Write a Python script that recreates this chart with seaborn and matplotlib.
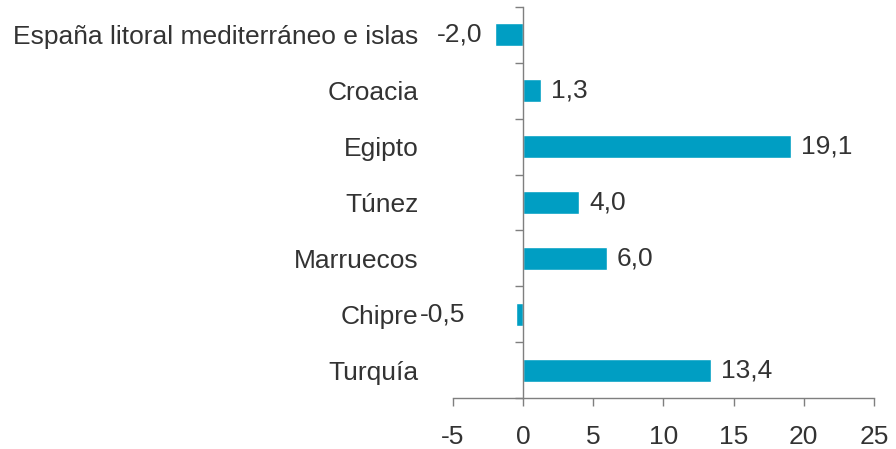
import matplotlib
matplotlib.use("Agg")
import matplotlib.pyplot as plt
import seaborn as sns
import pandas as pd

# Chart values
destinos = ["España litoral mediterráneo e islas", "Croacia", "Egipto", "Túnez",
            "Marruecos", "Chipre", "Turquía"]
variacion = [-2.0, 1.3, 19.1, 4.0, 6.0, -0.5, 13.4]
x_ticks = [-5, 0, 5, 10, 15, 20, 25]

df = pd.DataFrame({"destino": destinos, "variacion": variacion})

sns.set_theme(style="white")
plt.rcParams["font.family"] = ["Liberation Sans", "DejaVu Sans"]

BAR_COLOR = "#009EC3"
TEXT_COLOR = "#333333"
AXIS_COLOR = "#7f7f7f"
FS = 19

fig = plt.figure(figsize=(8.96, 4.49), dpi=100)
ax = fig.add_axes([0.5056, 0.1136, 0.4698, 0.8708])

sns.barplot(data=df, x="variacion", y="destino", order=destinos, orient="h",
            color=BAR_COLOR, width=0.41, saturation=1, ax=ax)

ax.set_xlim(-5, 25)
ax.set_ylim(len(destinos) - 0.5, -0.5)
ax.set_xlabel("")
ax.set_ylabel("")

# x axis at the bottom
ax.set_xticks(x_ticks)
ax.set_xticklabels([str(t) for t in x_ticks])
ax.tick_params(axis="x", direction="out", length=5.5, width=1, color=AXIS_COLOR,
               pad=14, labelsize=FS, labelcolor=TEXT_COLOR, bottom=True)
for s in ["top", "right", "left"]:
    ax.spines[s].set_visible(False)
ax.spines["bottom"].set_color(AXIS_COLOR)
ax.spines["bottom"].set_linewidth(1)

# category labels sit left of the plot area
ax.tick_params(axis="y", length=0, pad=25, labelsize=FS, labelcolor=TEXT_COLOR)

# vertical axis line at zero with boundary ticks
ax2 = ax.twinx()
ax2.set_ylim(ax.get_ylim())
for s in ["top", "left", "bottom"]:
    ax2.spines[s].set_visible(False)
ax2.spines["right"].set_position(("data", 0))
ax2.spines["right"].set_color(AXIS_COLOR)
ax2.spines["right"].set_linewidth(1)
ax2.set_yticks([i - 0.5 for i in range(len(destinos) + 1)])
ax2.tick_params(axis="y", direction="in", length=5.8, width=1, color=AXIS_COLOR,
                labelright=False)

# value labels with decimal comma
offsets = {"Chipre": -37}
for i, (name, val) in enumerate(zip(destinos, variacion)):
    label = f"{val:.1f}".replace(".", ",")
    if val >= 0:
        dx, ha = 7, "left"
    else:
        dx, ha = offsets.get(name, -9), "right"
    ax.annotate(label, xy=(val, i), xytext=(dx, 0), textcoords="offset points",
                ha=ha, va="center", fontsize=FS, color=TEXT_COLOR,
                bbox=dict(boxstyle="square,pad=0.1", fc="white", ec="none"))

fig.savefig("out.png", dpi=100, facecolor="white")
